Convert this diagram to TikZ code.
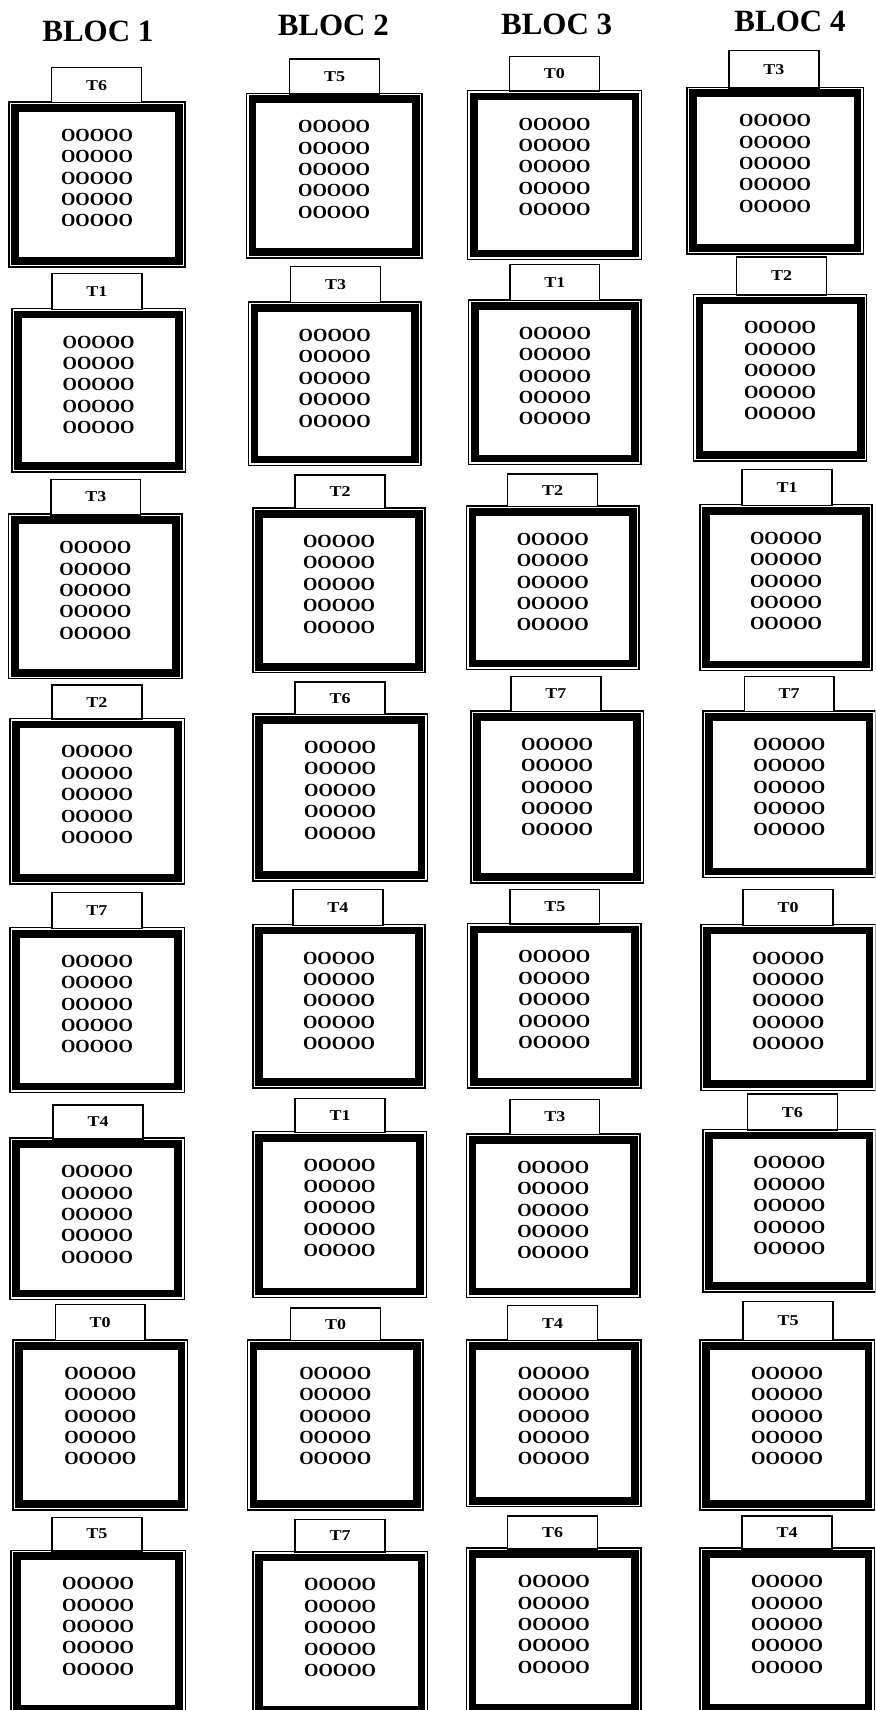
\documentclass[tikz,border=0pt]{standalone}
\usepackage{fontspec}
\setmainfont{Liberation Serif}
\usepackage{graphicx}
\def\scl{1.0909}
\tikzset{
  boxnode/.style={draw, line width=1.4pt, fill=white, inner sep=0pt},
  band/.style={draw, line width=7.7pt},
  tabnode/.style={draw, line width=1.4pt, fill=white, inner sep=0pt, minimum width=90pt, font=\bfseries\fontsize{15}{15}\selectfont},
  otext/.style={align=center, inner sep=0pt, font=\bfseries\fontsize{18.5}{21.4}\selectfont},
  heading/.style={anchor=base, inner sep=0pt, font=\bfseries\fontsize{31}{31}\selectfont},
}
% #1 name, #2 bx1, #3 bx2, #4 by1, #5 by2, #6 tx1, #7 ty1, #8 label
\newcommand\cellbox[8]{%
  \node[boxnode, minimum width={(#3-#2)*\scl*1pt}, minimum height={(#5-#4)*\scl*1pt}] (#1) at ({(#2+#3)/2},{(#4+#5)/2}) {};
  \draw[band] ([shift={(6.7pt,6.7pt)}]#1.south west) rectangle ([shift={(-6.7pt,-6.7pt)}]#1.north east);
  \node[tabnode, minimum height={(#4-#7)*\scl*1pt}, anchor=north west] (#1t) at (#6,#7) {\raisebox{-2pt}{\scalebox{1.2}[1]{#8}}};
  \node[otext] (#1o) at ([yshift=-77pt]#1.north) {OOOOO\\OOOOO\\OOOOO\\OOOOO\\OOOOO};
}
\begin{document}
\begin{tikzpicture}[x=1.0909pt, y=-1.0909pt]
\useasboundingbox (0,0) rectangle (803,1568.5);
\clip (0,0) rectangle (803,1568.5);
\fill[white] (0,0) rectangle (803,1568.5);
\node[heading] (h1) at (89.8,38.5) {BLOC 1};
\node[heading] (h2) at (305.7,33) {BLOC 2};
\node[heading] (h3) at (510.6,32) {BLOC 3};
\node[heading] (h4) at (724.6,29.3) {BLOC 4};
% column 1
\cellbox{c11}{8.3}{169.6}{93.5}{244.8}{46.7}{61.4}{T6}
\cellbox{c12}{11}{170}{283}{433}{47}{250}{T1}
\cellbox{c13}{8}{167}{471.6}{622.6}{46}{439}{T3}
\cellbox{c14}{9}{169}{659}{811}{47}{627.6}{T2}
\cellbox{c15}{9}{169}{851}{1002}{47}{818}{T7}
\cellbox{c16}{9}{169}{1044}{1192}{48}{1013}{T4}
\cellbox{c17}{12}{172}{1229}{1385}{50}{1196}{T0}
\cellbox{c18}{10}{170}{1422}{1573}{47}{1391}{T5}
% column 2
\cellbox{c21}{226}{387}{85.5}{236.8}{265}{53.5}{T5}
\cellbox{c22}{228}{386}{277}{427}{266}{244}{T3}
\cellbox{c23}{232}{390}{466}{617}{270}{435}{T2}
\cellbox{c24}{232}{392}{655}{808}{270}{625}{T6}
\cellbox{c25}{232}{390}{848}{998}{268}{815}{T4}
\cellbox{c26}{232}{391}{1038}{1190}{270}{1007}{T1}
\cellbox{c27}{227}{388}{1229}{1385}{266}{1199}{T0}
\cellbox{c28}{232}{392}{1423}{1574}{270}{1393}{T7}
% column 3
\cellbox{c31}{429}{588.5}{83}{238}{466.6}{51.3}{T0}
\cellbox{c32}{430}{588}{275}{426}{467}{242}{T1}
\cellbox{c33}{428}{586}{464}{614}{465}{434}{T2}
\cellbox{c34}{432}{590}{652}{810}{468}{620}{T7}
\cellbox{c35}{429}{588}{847}{998}{467}{815}{T5}
\cellbox{c36}{428}{587}{1040}{1190}{467}{1008}{T3}
\cellbox{c37}{428}{588}{1229}{1382}{465}{1197}{T4}
\cellbox{c38}{428}{588}{1420}{1572}{465}{1390}{T6}
% column 4
\cellbox{c41}{630}{792}{80}{233}{668}{45.8}{T3}
\cellbox{c42}{636}{795}{270}{423}{675}{235}{T2}
\cellbox{c43}{642}{800}{463}{615}{680}{430}{T1}
\cellbox{c44}{645}{803}{652}{805}{682}{620}{T7}
\cellbox{c45}{643}{803}{848}{1000}{681}{815}{T0}
\cellbox{c46}{645}{803}{1036}{1185}{685}{1003}{T6}
\cellbox{c47}{642}{802}{1229}{1385}{681}{1193}{T5}
\cellbox{c48}{642}{802}{1420}{1572}{680}{1390}{T4}
\end{tikzpicture}
\end{document}
